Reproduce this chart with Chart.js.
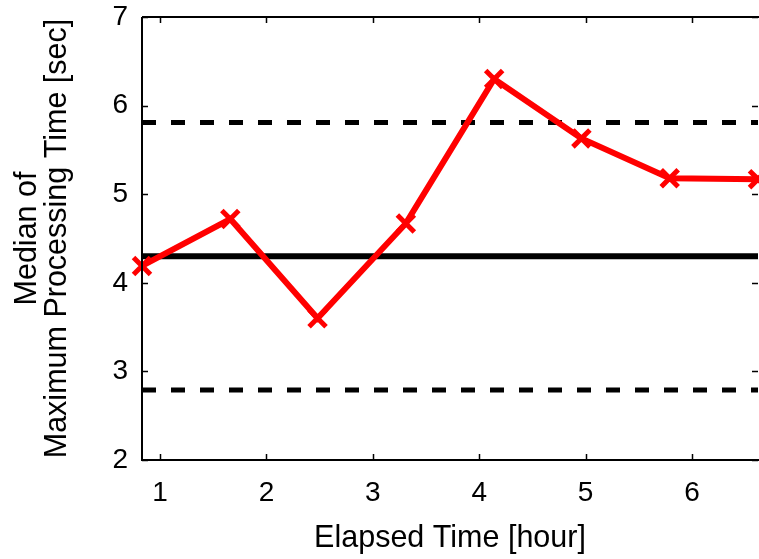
<!DOCTYPE html>
<html>
<head>
<meta charset="utf-8">
<script src="https://cdn.jsdelivr.net/npm/chart.js@4.4.1/dist/chart.umd.min.js"></script>
<style>
  html, body { margin: 0; padding: 0; background: #fff; overflow: hidden; }
  #wrap { width: 759px; height: 559px; }
</style>
</head>
<body>
<div id="wrap"><canvas id="chart" width="759" height="559"></canvas></div>
<script>
const hours = [0.83, 1.66, 2.48, 3.31, 4.14, 4.96, 5.79, 6.62];
const medianMax = [4.19, 4.72, 3.60, 4.67, 6.30, 5.63, 5.18, 5.17];
const meanLevel = 4.30;
const upperLevel = 5.81;
const lowerLevel = 2.79;
const xTicks = [1, 2, 3, 4, 5, 6];
const yTicks = [2, 3, 4, 5, 6, 7];
const xMin = 0.83, xMax = 6.62;

const font = 'Liberation Sans, Arial, Helvetica, sans-serif';

function levelLine(v) {
    return [{ x: xMin, y: v }, { x: xMax, y: v }];
}

function noPad(s) {
    s.paddingTop = 0;
    s.paddingBottom = 0;
    s.paddingLeft = 0;
    s.paddingRight = 0;
}

// inward ticks on all four sides, plus the frame
const frame = {
    id: 'frame',
    afterDatasetsDraw(chart) {
        const { ctx, chartArea: a, scales: { x, y } } = chart;
        ctx.save();
        ctx.strokeStyle = '#000';
        ctx.lineWidth = 2;
        ctx.beginPath();
        ctx.moveTo(a.left, a.top);
        ctx.lineTo(a.right + 2, a.top);
        ctx.moveTo(a.left, a.top);
        ctx.lineTo(a.left, a.bottom);
        ctx.lineTo(a.right + 2, a.bottom);
        ctx.stroke();
        ctx.lineWidth = 1.5;
        ctx.beginPath();
        xTicks.forEach(v => {
            const px = Math.round(x.getPixelForValue(v)) + 0.5;
            ctx.moveTo(px, a.bottom);
            ctx.lineTo(px, a.bottom - 6);
            ctx.moveTo(px, a.top);
            ctx.lineTo(px, a.top + 6);
        });
        yTicks.forEach(v => {
            const py = Math.round(y.getPixelForValue(v)) + 0.5;
            ctx.moveTo(a.left, py);
            ctx.lineTo(a.left + 6, py);
            ctx.moveTo(a.right, py);
            ctx.lineTo(a.right - 6, py);
        });
        ctx.stroke();
        ctx.restore();
    }
};

new Chart(document.getElementById('chart'), {
    type: 'line',
    data: {
        datasets: [
            {
                data: hours.map((h, i) => ({ x: h, y: medianMax[i] })),
                borderColor: '#ff0000',
                backgroundColor: '#ff0000',
                borderWidth: 6,
                pointStyle: 'crossRot',
                pointRadius: 12,
                pointBorderWidth: 5,
                clip: false,
                order: 0
            },
            {
                data: levelLine(meanLevel),
                borderColor: '#000',
                borderWidth: 6,
                pointRadius: 0,
                order: 1
            },
            {
                data: levelLine(upperLevel),
                borderColor: '#000',
                borderWidth: 5,
                borderDash: [14, 15],
                pointRadius: 0,
                order: 1
            },
            {
                data: levelLine(lowerLevel),
                borderColor: '#000',
                borderWidth: 5,
                borderDash: [14, 15],
                pointRadius: 0,
                order: 1
            }
        ]
    },
    options: {
        responsive: false,
        animation: false,
        layout: { autoPadding: false, padding: { top: 17, right: 1, left: 0, bottom: 0 } },
        plugins: { legend: { display: false }, tooltip: { enabled: false } },
        scales: {
            x: {
                type: 'linear',
                min: xMin,
                max: xMax,
                afterBuildTicks: s => { s.ticks = xTicks.map(v => ({ value: v })); },
                afterFit: s => { s.height = 99; noPad(s); },
                grid: { display: false, drawTicks: false },
                border: { display: false },
                ticks: { color: '#000', font: { family: font, size: 28 }, padding: 16, maxRotation: 0 },
                title: {
                    display: true,
                    text: 'Elapsed Time [hour]',
                    color: '#000',
                    font: { family: font, size: 30.5 },
                    padding: { top: 0, bottom: 2 }
                }
            },
            y: {
                min: 2,
                max: 7,
                afterBuildTicks: s => { s.ticks = yTicks.map(v => ({ value: v })); },
                afterFit: s => { s.width = 142; noPad(s); },
                grid: { display: false, drawTicks: false },
                border: { display: false },
                ticks: { color: '#000', font: { family: font, size: 28 }, padding: 14 },
                title: {
                    display: true,
                    text: ['Median of', 'Maximum Processing Time [sec]'],
                    color: '#000',
                    font: { family: font, size: 30.5, lineHeight: 1.0 },
                    padding: { top: 12, bottom: 0 }
                }
            }
        }
    },
    plugins: [frame]
});
</script>
</body>
</html>
